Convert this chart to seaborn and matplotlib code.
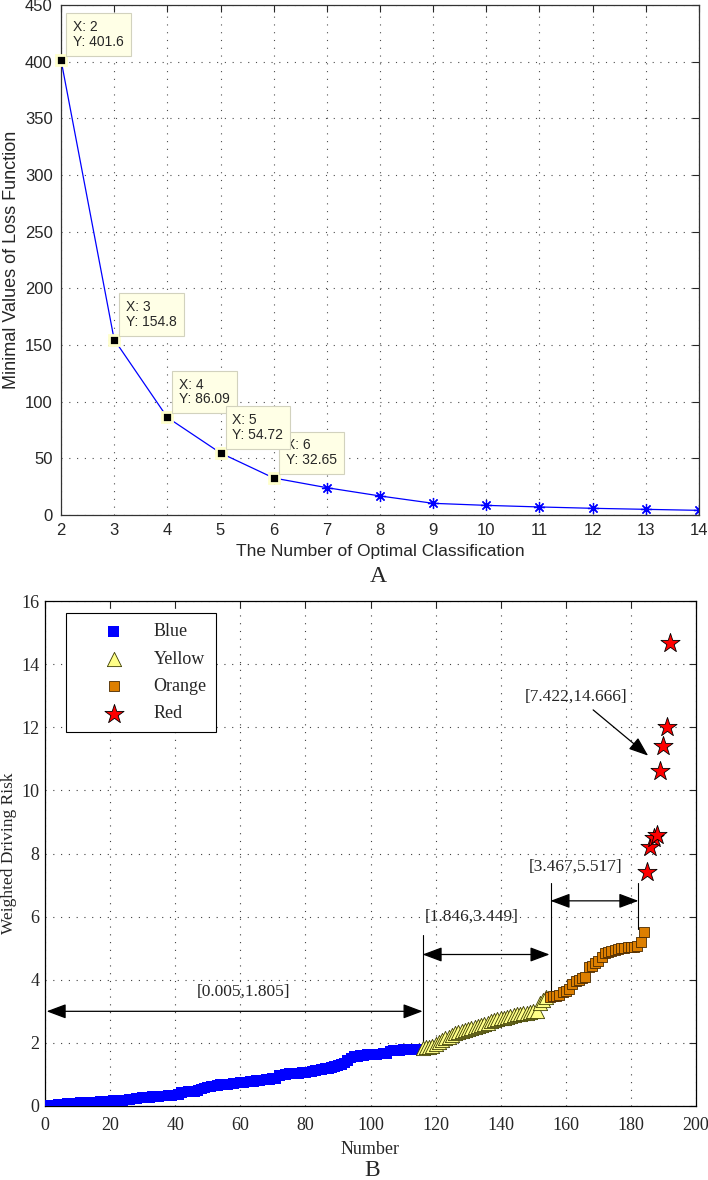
import numpy as np
import pandas as pd
import seaborn as sns
import matplotlib.pyplot as plt

# panel A: minimal loss vs number of classes
n_classes = [2, 3, 4, 5, 6, 7, 8, 9, 10, 11, 12, 13, 14]
loss_min = [401.6, 154.8, 86.09, 54.72, 32.65, 24.1, 16.8, 10.3, 8.5, 7.1, 5.9, 5.0, 4.1]
tip_x = [2, 3, 4, 6, 5]   # 5 is drawn last, it covers the box of 6
tip_y = [401.6, 154.8, 86.09, 32.65, 54.72]

# panel B: sorted weighted driving risk by class
blue_risk = [0.005, 0.02, 0.03, 0.04, 0.05, 0.06, 0.07, 0.08, 0.09, 0.09,
             0.10, 0.10, 0.11, 0.12, 0.12, 0.13, 0.14, 0.15, 0.15, 0.16,
             0.17, 0.17, 0.18, 0.18, 0.19, 0.20, 0.22, 0.24, 0.25, 0.26,
             0.27, 0.28, 0.29, 0.30, 0.31, 0.32, 0.32, 0.33, 0.34, 0.35,
             0.36, 0.42, 0.44, 0.45, 0.46, 0.47, 0.50, 0.54, 0.57, 0.60,
             0.62, 0.63, 0.65, 0.67, 0.68, 0.69, 0.70, 0.72, 0.73, 0.74,
             0.75, 0.76, 0.77, 0.78, 0.80, 0.81, 0.82, 0.83, 0.84, 0.86,
             0.88, 0.96, 0.98, 1.00, 1.02, 1.03, 1.04, 1.04, 1.05, 1.06,
             1.08, 1.10, 1.12, 1.14, 1.16, 1.18, 1.20, 1.22, 1.25, 1.28,
             1.31, 1.36, 1.45, 1.52, 1.56, 1.58, 1.60, 1.61, 1.62, 1.63,
             1.64, 1.64, 1.65, 1.66, 1.66, 1.74, 1.75, 1.76, 1.77, 1.78,
             1.79, 1.79, 1.80, 1.80, 1.805]
yellow_risk = [1.846, 1.86, 1.88, 1.90, 1.95, 2.02, 2.08, 2.14, 2.20, 2.25,
               2.30, 2.34, 2.38, 2.41, 2.44, 2.47, 2.50, 2.53, 2.56, 2.59,
               2.62, 2.68, 2.72, 2.75, 2.78, 2.80, 2.83, 2.86, 2.88, 2.90,
               2.92, 2.94, 2.96, 2.98, 3.00, 3.02, 3.25, 3.35, 3.449]
orange_risk = [3.467, 3.48, 3.50, 3.52, 3.60, 3.65, 3.72, 3.85, 3.95, 4.00,
               4.05, 4.10, 4.40, 4.45, 4.52, 4.60, 4.72, 4.85, 4.88, 4.92,
               4.95, 4.98, 5.00, 5.02, 5.03, 5.04, 5.05, 5.08, 5.20, 5.517]
red_risk = [7.422, 8.20, 8.50, 8.60, 10.60, 11.40, 12.00, 14.666]
class_names = ['Blue', 'Yellow', 'Orange', 'Red']

groups = [blue_risk, yellow_risk, orange_risk, red_risk]
rows = []
num = 1
for name, vals in zip(class_names, groups):
    for v in vals:
        rows.append((num, v, name))
        num += 1
df = pd.DataFrame(rows, columns=['Number', 'Risk', 'Class'])

sns.set_style('white')
plt.rcParams['font.family'] = ['Liberation Serif', 'DejaVu Serif']
sans = ['Liberation Sans', 'DejaVu Sans']
dotted = (0, (1, 6))

fig = plt.figure(figsize=(7.08, 11.8), dpi=100)
axA = fig.add_axes([61/708, 1-515/1180, 638/708, 510/1180])
axB = fig.add_axes([45/708, 1-1106/1180, 651/708, 505/1180])

# ---- A
sns.lineplot(x=n_classes, y=loss_min, ax=axA, color='blue', lw=0.9,
             marker=(8, 2, 0), markersize=8, markeredgecolor='blue',
             markeredgewidth=0.9)
axA.plot(tip_x, tip_y, 's', ms=6.5, mfc='k', mec='#FFFFCC', mew=2,
         clip_on=False, zorder=6, ls='none')
for x, y in zip(tip_x, tip_y):
    axA.annotate('X: %d\nY: %.4g' % (x, y), xy=(x, y), xytext=(12, 11),
                 textcoords='offset pixels', ha='left', va='bottom',
                 fontsize=10, family=sans, linespacing=1.05, zorder=7,
                 bbox=dict(boxstyle='square,pad=0.5', fc='#FFFFE6',
                           ec='#D2D2BE', lw=0.8))
axA.set_xlim(2, 14)
axA.set_ylim(0, 450)
axA.set_xticks(range(2, 15))
axA.set_yticks(range(0, 451, 50))
axA.grid(True, ls=dotted, color='0.3', lw=0.8)
axA.tick_params(direction='in', top=True, right=True, length=5, width=0.8,
                labelsize=12, labelfontfamily='Liberation Sans', pad=6)
for s in axA.spines.values():
    s.set_color('0.2')
    s.set_linewidth(0.9)
axA.set_xlabel('The Number of Optimal Classification', fontsize=12.5, family=sans)
axA.set_ylabel('Minimal Values of Loss Function', fontsize=13, family=sans)
axA.xaxis.set_label_coords(0.5, -0.057)
axA.yaxis.set_label_coords(-0.064, 0.5)

# ---- B
styles = {'Blue': dict(marker='s', s=60, color='#0000FF', edgecolor='none', linewidth=0),
          'Yellow': dict(marker='^', s=105, color='#FFFF88', edgecolor='#3C3C00', linewidth=0.6),
          'Orange': dict(marker='s', s=60, color='#DD7F00', edgecolor='#4A2A00', linewidth=0.6),
          'Red': dict(marker='*', s=210, color='#FF0000', edgecolor='k', linewidth=0.6)}
for name in class_names:
    sub = df[df['Class'] == name]
    sns.scatterplot(data=sub, x='Number', y='Risk', ax=axB, label=name,
                    zorder=3, **styles[name])

arrow2 = dict(arrowstyle='<|-|>,head_length=1.2,head_width=0.45', color='k',
              lw=0.9, shrinkA=0, shrinkB=0)
axB.annotate('', xy=(116, 3.0), xytext=(0.5, 3.0), arrowprops=arrow2)
axB.annotate('', xy=(155, 4.8), xytext=(116, 4.8), arrowprops=arrow2)
axB.annotate('', xy=(182.3, 6.5), xytext=(155.3, 6.5), arrowprops=arrow2)
axB.plot([116, 116], [1.95, 5.42], color='k', lw=0.8)
axB.plot([155.3, 155.3], [3.65, 7.05], color='k', lw=0.8)
axB.plot([182.3, 182.3], [5.6, 7.05], color='k', lw=0.8)
axB.annotate('', xy=(185.3, 11.1), xytext=(168.4, 12.55),
             arrowprops=dict(arrowstyle='-|>,head_length=1.2,head_width=0.45',
                             color='k', lw=0.9, shrinkA=0, shrinkB=0))
axB.text(61, 3.62, '[0.005,1.805]', ha='center', va='center', fontsize=12.5)
axB.text(131, 6.0, '[1.846,3.449]', ha='center', va='center', fontsize=12.5)
axB.text(163, 7.57, '[3.467,5.517]', ha='center', va='center', fontsize=12.5)
axB.text(163, 12.96, '[7.422,14.666]', ha='center', va='center', fontsize=12.5)

axB.set_xlim(0, 200)
axB.set_ylim(0, 16)
axB.set_xticks(range(0, 201, 20))
axB.set_yticks(range(0, 17, 2))
axB.grid(True, ls=dotted, color='0.25', lw=0.8)
axB.tick_params(direction='in', top=True, right=True, length=5, width=0.8,
                labelsize=13)
axB.tick_params(axis='x', pad=8)
axB.tick_params(axis='y', pad=4)
for s in axB.spines.values():
    s.set_color('k')
    s.set_linewidth(0.9)
axB.set_xlabel('Number', fontsize=13)
axB.set_ylabel('Weighted Driving Risk', fontsize=12.5)
axB.xaxis.set_label_coords(0.5, -0.07)
axB.yaxis.set_label_coords(-0.043, 0.5)
leg = axB.legend(loc='upper left', bbox_to_anchor=(0.032, 0.976), borderaxespad=0,
                 frameon=True, fancybox=False, edgecolor='k', framealpha=1,
                 fontsize=13, handletextpad=0.1, labelspacing=0.58,
                 borderpad=0.55, handlelength=4.2)
leg.get_frame().set_linewidth(0.8)

fig.text(378/708, 1-576/1180, 'A', ha='center', va='center', fontsize=17)
fig.text(372/708, 1-1170/1180, 'B', ha='center', va='center', fontsize=17)

fig.savefig('out.png', dpi=100)
